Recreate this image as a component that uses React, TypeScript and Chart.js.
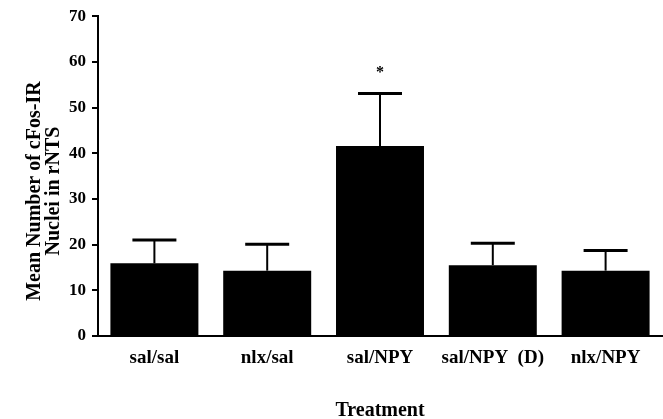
import React, { useEffect, useRef } from "react";
import { Chart, registerables } from "chart.js";

Chart.register(...registerables);

// Treatment groups along the x axis
const treatments = ["sal/sal", "nlx/sal", "sal/NPY", "sal/NPY  (D)", "nlx/NPY"];
// Mean number of cFos-IR nuclei per group
const meanCounts = [15.9, 14.3, 41.6, 15.5, 14.3];
// Standard error of the mean per group (drawn upward only)
const semCounts = [5.1, 5.8, 11.5, 4.8, 4.4];
// Groups marked as significantly different
const significant = [false, false, true, false, false];

// Two-line y axis title; trailing spaces nudge it toward the bottom of the axis
const yTitleLines = ["Mean Number of cFos-IR      ", "Nuclei in rNTS      "];

const Y_MIN = 0;
const Y_MAX = 70;
const Y_STEP = 5;
const Y_LABEL_STEP = 10;

const SERIF = "'Liberation Serif', 'Times New Roman', serif";

const errorBarsPlugin = {
  id: "errorBars",
  afterDatasetsDraw(chart: any) {
    const { ctx } = chart;
    const y = chart.scales.y;
    const meta = chart.getDatasetMeta(0);
    ctx.save();
    ctx.strokeStyle = "#000";
    ctx.fillStyle = "#000";
    meta.data.forEach((bar: any, i: number) => {
      const cx = bar.x;
      const half = bar.width / 4;
      const yMean = y.getPixelForValue(meanCounts[i]);
      const yTop = y.getPixelForValue(meanCounts[i] + semCounts[i]);
      ctx.lineWidth = 2;
      ctx.beginPath();
      ctx.moveTo(cx, yMean);
      ctx.lineTo(cx, yTop);
      ctx.stroke();
      ctx.lineWidth = 3;
      ctx.beginPath();
      ctx.moveTo(cx - half, yTop);
      ctx.lineTo(cx + half, yTop);
      ctx.stroke();
      if (significant[i]) {
        ctx.font = `bold 16px ${SERIF}`;
        ctx.textAlign = "center";
        ctx.textBaseline = "middle";
        ctx.fillText("*", cx, yTop - 21);
      }
    });
    ctx.restore();
  },
};

export default function App() {
  const canvasRef = useRef<HTMLCanvasElement | null>(null);

  useEffect(() => {
    const canvas = canvasRef.current;
    if (!canvas) return;
    const chart = new Chart(canvas, {
      type: "bar",
      data: {
        labels: treatments,
        datasets: [
          {
            data: meanCounts,
            backgroundColor: "#000",
            borderWidth: 0,
            barPercentage: 0.78,
            categoryPercentage: 1,
          },
        ],
      },
      options: {
        responsive: false,
        animation: false,
        layout: { padding: { top: 16, right: 1, left: 0, bottom: 0 } },
        plugins: {
          legend: { display: false },
          tooltip: { enabled: false },
        },
        scales: {
          x: {
            grid: { display: false, drawTicks: false },
            border: { display: true, color: "#000", width: 2 },
            ticks: {
              color: "#000",
              padding: 11,
              autoSkip: false,
              maxRotation: 0,
              minRotation: 0,
              font: { family: SERIF, size: 19, weight: "bold" },
            },
            title: {
              display: true,
              text: "Treatment",
              color: "#000",
              padding: { top: 0, bottom: 0 },
              font: { family: SERIF, size: 20, weight: "bold", lineHeight: 0.8 },
            },
            afterFit(scale: any) {
              scale.height = 83;
            },
          },
          y: {
            min: Y_MIN,
            max: Y_MAX,
            grid: {
              display: true,
              drawOnChartArea: false,
              drawTicks: true,
              tickLength: 6,
              lineWidth: 2,
              color: "#000",
            },
            border: { display: true, color: "#000", width: 2 },
            ticks: {
              stepSize: Y_STEP,
              color: "#000",
              padding: 6,
              font: { family: SERIF, size: 17, weight: "bold" },
              callback: (v: any) => (Number(v) % Y_LABEL_STEP === 0 ? String(v) : ""),
            },
            title: {
              display: true,
              text: yTitleLines,
              color: "#000",
              padding: { top: 25, bottom: 0 },
              font: { family: SERIF, size: 20, weight: "bold", lineHeight: 0.95 },
            },
            afterFit(scale: any) {
              scale.width = 98;
            },
          },
        },
      },
      plugins: [errorBarsPlugin],
    });
    return () => chart.destroy();
  }, []);

  return (
    <div style={{ position: "absolute", left: 0, top: 0, width: 663, height: 419, background: "#fff" }}>
      <canvas ref={canvasRef} width={663} height={419} />
    </div>
  );
}
